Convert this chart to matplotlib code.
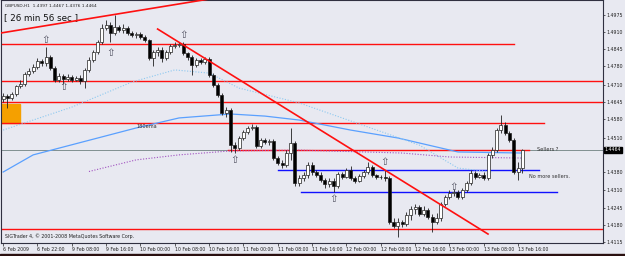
import matplotlib
matplotlib.use("Agg")
import matplotlib.pyplot as plt
from matplotlib.patches import Rectangle

# GBPUSD H1 bars, 6 Feb 14:00 .. 13 Feb 19:00
first_open = 1.4657
closes = [1.4668, 1.4661, 1.4676, 1.4706, 1.4714, 1.4752, 1.4763, 1.4778, 1.4801, 1.4793,
          1.4816, 1.4774, 1.4729, 1.4744, 1.4733, 1.4740, 1.4729, 1.4736, 1.4725, 1.4767,
          1.4805, 1.4835, 1.4873, 1.4926, 1.4937, 1.4907, 1.4930, 1.4918, 1.4926, 1.4907,
          1.4899, 1.4903, 1.4892, 1.4880, 1.4812, 1.4835, 1.4842, 1.4812, 1.4835, 1.4858,
          1.4861, 1.4865, 1.4831, 1.4816, 1.4786, 1.4805, 1.4797, 1.4808, 1.4748, 1.4710,
          1.4672, 1.4604, 1.4615, 1.4482, 1.4471, 1.4509, 1.4532, 1.4547, 1.4551, 1.4479,
          1.4501, 1.4494, 1.4498, 1.4433, 1.4414, 1.4407, 1.4452, 1.4490, 1.4338, 1.4357,
          1.4369, 1.4407, 1.4380, 1.4369, 1.4350, 1.4335, 1.4346, 1.4327, 1.4373, 1.4361,
          1.4388, 1.4357, 1.4346, 1.4365, 1.4380, 1.4399, 1.4369, 1.4361, 1.4361, 1.4357,
          1.4191, 1.4176, 1.4191, 1.4183, 1.4217, 1.4240, 1.4247, 1.4221, 1.4236, 1.4210,
          1.4191, 1.4206, 1.4259, 1.4285, 1.4301, 1.4304, 1.4285, 1.4312, 1.4338, 1.4376,
          1.4361, 1.4369, 1.4357, 1.4445, 1.4463, 1.4539, 1.4558, 1.4528, 1.4501, 1.4380,
          1.4397, 1.4464]
highs = [1.4680, 1.4676, 1.4683, 1.4710, 1.4729, 1.4759, 1.4774, 1.4789, 1.4812, 1.4808,
         1.4854, 1.4824, 1.4782, 1.4755, 1.4752, 1.4752, 1.4748, 1.4744, 1.4748, 1.4774,
         1.4816, 1.4842, 1.4880, 1.4941, 1.4956, 1.4949, 1.4975, 1.4937, 1.4941, 1.4933,
         1.4915, 1.4911, 1.4911, 1.4899, 1.4884, 1.4842, 1.4854, 1.4854, 1.4842, 1.4865,
         1.4873, 1.4873, 1.4873, 1.4835, 1.4824, 1.4812, 1.4812, 1.4816, 1.4816, 1.4755,
         1.4717, 1.4680, 1.4626, 1.4623, 1.4494, 1.4517, 1.4539, 1.4554, 1.4562, 1.4558,
         1.4509, 1.4509, 1.4505, 1.4505, 1.4441, 1.4426, 1.4463, 1.4547, 1.4498, 1.4369,
         1.4380, 1.4418, 1.4418, 1.4388, 1.4380, 1.4357, 1.4357, 1.4357, 1.4380, 1.4380,
         1.4395, 1.4403, 1.4365, 1.4373, 1.4388, 1.4418, 1.4407, 1.4373, 1.4369, 1.4388,
         1.4365, 1.4206, 1.4206, 1.4198, 1.4229, 1.4251, 1.4259, 1.4255, 1.4251, 1.4244,
         1.4221, 1.4225, 1.4266, 1.4293, 1.4312, 1.4316, 1.4312, 1.4319, 1.4346, 1.4388,
         1.4384, 1.4376, 1.4380, 1.4452, 1.4475, 1.4547, 1.4596, 1.4570, 1.4535, 1.4509,
         1.4418, 1.4467]
lows = [1.4645, 1.4623, 1.4653, 1.4668, 1.4698, 1.4706, 1.4744, 1.4755, 1.4770, 1.4782,
        1.4782, 1.4767, 1.4721, 1.4721, 1.4714, 1.4725, 1.4721, 1.4725, 1.4714, 1.4698,
        1.4759, 1.4797, 1.4827, 1.4865, 1.4918, 1.4873, 1.4899, 1.4911, 1.4907, 1.4899,
        1.4892, 1.4888, 1.4884, 1.4873, 1.4805, 1.4782, 1.4820, 1.4797, 1.4805, 1.4827,
        1.4850, 1.4854, 1.4824, 1.4805, 1.4748, 1.4778, 1.4789, 1.4789, 1.4740, 1.4702,
        1.4664, 1.4596, 1.4589, 1.4456, 1.4452, 1.4463, 1.4501, 1.4524, 1.4539, 1.4471,
        1.4471, 1.4486, 1.4482, 1.4426, 1.4407, 1.4395, 1.4399, 1.4426, 1.4327, 1.4327,
        1.4346, 1.4357, 1.4369, 1.4361, 1.4342, 1.4319, 1.4323, 1.4304, 1.4319, 1.4354,
        1.4357, 1.4350, 1.4338, 1.4342, 1.4357, 1.4373, 1.4361, 1.4354, 1.4354, 1.4346,
        1.4183, 1.4168, 1.4134, 1.4172, 1.4176, 1.4198, 1.4221, 1.4214, 1.4214, 1.4202,
        1.4153, 1.4183, 1.4194, 1.4251, 1.4278, 1.4289, 1.4278, 1.4278, 1.4304, 1.4331,
        1.4354, 1.4357, 1.4350, 1.4350, 1.4433, 1.4456, 1.4528, 1.4520, 1.4494, 1.4373,
        1.4350, 1.4376]
opens = [first_open] + closes[:-1]

time_labels = ["6 Feb 2009", "6 Feb 22:00", "9 Feb 08:00", "9 Feb 16:00", "10 Feb 00:00",
               "10 Feb 08:00", "10 Feb 16:00", "11 Feb 00:00", "11 Feb 08:00", "11 Feb 16:00",
               "12 Feb 00:00", "12 Feb 08:00", "12 Feb 16:00", "13 Feb 00:00", "13 Feb 08:00",
               "13 Feb 16:00"]
price_ticks = [1.4975, 1.4910, 1.4845, 1.4780, 1.4710, 1.4645, 1.4580, 1.4510,
               1.4380, 1.4310, 1.4245, 1.4180, 1.4115]

# indicator lines, sampled (bar index, price)
ema180_idx = [0, 7, 31, 41, 53, 61, 69, 81, 92, 106, 121]
ema180_val = [1.4380, 1.4445, 1.4547, 1.4585, 1.4600, 1.4592, 1.4577, 1.4539, 1.4509, 1.4456, 1.4452]
ma_dot_idx = [0, 16, 30, 40, 48, 55, 69, 89, 97, 106, 114]
ma_dot_val = [1.4539, 1.4626, 1.4721, 1.4767, 1.4755, 1.4698, 1.4642, 1.4528, 1.4482, 1.4395, 1.4380]
ma_purple_idx = [20, 31, 41, 53, 69, 93, 104, 121]
ma_purple_val = [1.4382, 1.4426, 1.4445, 1.4460, 1.4463, 1.4452, 1.4437, 1.4433]

# drawn objects: horizontal levels (price, start idx, end idx)
red_levels = [(1.4865, -1, 119), (1.4725, -1, 141), (1.4645, -1, 141),
              (1.4566, -1, 126), (1.4463, 52.5, 122.5), (1.4164, -1, 141)]
blue_levels = [(1.4388, 64, 125), (1.4304, 69.5, 129)]
trend1_idx, trend1_val = [-0.5, 50], [1.4907, 1.5041]
trend2_idx, trend2_val = [36, 113], [1.4922, 1.4145]
arrow_idx = [10, 14, 25, 42, 54, 77, 89, 105]
arrow_val = [1.4880, 1.4702, 1.4831, 1.4899, 1.4426, 1.4278, 1.4418, 1.4323]
bid = 1.4464

fig = plt.figure(figsize=(6.25, 2.56), dpi=100)
fig.patch.set_facecolor("#e8e9f1")
ax = fig.add_axes([0.0016, 13 / 256, 602 / 625, 243 / 256])
ax.set_facecolor("#e8e9f1")

n = len(closes)
xs = list(range(n))

# orange box at the left
ax.add_patch(Rectangle((-0.6, 1.4566), 4.6, 0.0072, color="#f5a000", zorder=1))

for p, a, b in red_levels:
    ax.plot([a, b], [p, p], color="#ff1010", lw=1.0, zorder=2)
for p, a, b in blue_levels:
    ax.plot([a, b], [p, p], color="#1010ff", lw=1.0, zorder=2)
ax.axhline(bid, color="#809090", lw=0.7, zorder=1.5)

ax.plot(ema180_idx, ema180_val, color="#5aa0ff", lw=0.9, zorder=2)
ax.plot(ma_dot_idx, ma_dot_val, color="#8cc8f0", lw=0.8, ls=(0, (1, 1.5)), zorder=2)
ax.plot(ma_purple_idx, ma_purple_val, color="#a050c0", lw=0.8, ls=(0, (1, 1.5)), zorder=2)

# candles
ax.vlines(xs, lows, highs, color="#202020", lw=0.6, zorder=3)
for i in xs:
    o, c = opens[i], closes[i]
    bottom = min(o, c)
    h = max(abs(c - o), 0.00012)
    ax.bar(i, h, bottom=bottom, width=0.7,
           color="white" if c >= o else "black", edgecolor="#202020",
           linewidth=0.5, zorder=4)

ax.plot(trend1_idx, trend1_val, color="#ff1010", lw=1.2, zorder=5)
ax.plot(trend2_idx, trend2_val, color="#ff1010", lw=1.2, zorder=5)

for i, p in zip(arrow_idx, arrow_val):
    ax.text(i, p, "\u21e7", fontsize=7.5, ha="center", va="center", color="#505060", zorder=5)

ax.text(31, 1.4551, "180ema", fontsize=3.6, color="#303030", va="center")
ax.text(124.5, 1.4466, "Sellers ?", fontsize=3.6, color="#303030", va="center")
ax.text(122.5, 1.4362, "No more sellers.", fontsize=3.6, color="#303030", va="center")

ax.text(0.006, 0.985, "GBPUSD,H1  1.4397 1.4467 1.4376 1.4464", transform=ax.transAxes,
        fontsize=3.1, va="top", color="#202020")
ax.text(0.005, 0.945, "[ 26 min 56 sec ]", transform=ax.transAxes,
        fontsize=6.3, va="top", color="#101010")
ax.text(0.006, 0.015, "SIGTrader 4, \u00a9 2001-2008 MetaQuotes Software Corp.",
        transform=ax.transAxes, fontsize=3.4, va="bottom", color="#202020")

ax.set_xlim(-0.5, 139.8)
ax.set_ylim(1.4111, 1.5032)

ax.yaxis.tick_right()
ax.set_yticks(price_ticks)
ax.set_yticklabels([f"{p:.4f}" for p in price_ticks])
ax.set_xticks(list(range(0, 121, 8)))
ax.set_xticklabels(time_labels, ha="left")
ax.tick_params(axis="x", labelsize=3.3, length=2, width=0.5, pad=1, colors="#202020")
ax.tick_params(axis="y", labelsize=3.4, length=1.5, width=0.5, pad=0.8, colors="#202020")

# current bid label
ax.text(1.003, bid, "1.4464", transform=ax.get_yaxis_transform(), fontsize=3.4,
        color="white", va="center", ha="left",
        bbox=dict(boxstyle="square,pad=0.15", fc="black", ec="black"))

for s in ax.spines.values():
    s.set_color("#303040")
    s.set_linewidth(0.8)

fig.patches.append(Rectangle((0, 0), 1, 2 / 256, transform=fig.transFigure,
                             color="#2a1010", zorder=10))

fig.savefig("out.png", dpi=100, facecolor=fig.get_facecolor())
